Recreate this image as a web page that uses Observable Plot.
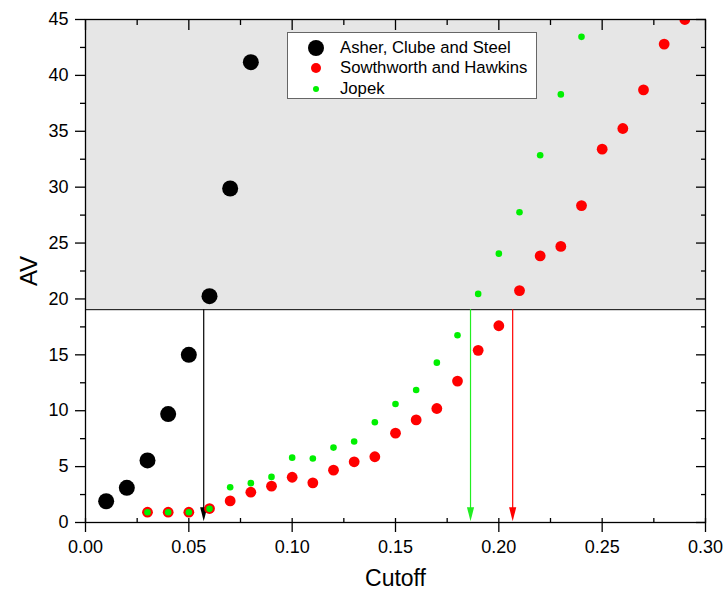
<!DOCTYPE html>
<html>
<head>
<meta charset="utf-8">
<script src="https://cdn.jsdelivr.net/npm/d3@7"></script>
<script src="https://cdn.jsdelivr.net/npm/@observablehq/plot@0.6"></script>
<style>
  html, body { margin: 0; padding: 0; background: #fff; }
  #wrap { position: relative; width: 724px; height: 597px; font-family: "Liberation Sans", Arial, sans-serif; }
  #legend { position: absolute; left: 287px; top: 32px; width: 250px; height: 67px; background: #fff; border: 1px solid #666; box-sizing: border-box; }
  .item { position: absolute; left: 0; height: 20px; display: flex; align-items: center; font-size: 16.7px; color: #000; }
  .mk { position: absolute; border-radius: 50%; }
  .lab { position: absolute; left: 52px; white-space: nowrap; }
</style>
</head>
<body>
<div id="wrap"></div>
<script>
// ---- data ----
const asherX = [0.01, 0.02, 0.03, 0.04, 0.05, 0.06, 0.07, 0.08];
const asherY = [1.9, 3.1, 5.55, 9.7, 15.0, 20.25, 29.88, 41.18];

const sowthX = [0.03, 0.04, 0.05, 0.06, 0.07, 0.08, 0.09, 0.10, 0.11, 0.12, 0.13, 0.14, 0.15, 0.16, 0.17, 0.18, 0.19, 0.20, 0.21, 0.22, 0.23, 0.24, 0.25, 0.26, 0.27, 0.28, 0.29];
const sowthY = [0.92, 0.92, 0.92, 1.25, 1.93, 2.71, 3.25, 4.05, 3.55, 4.68, 5.43, 5.88, 7.99, 9.18, 10.2, 12.65, 15.4, 17.6, 20.75, 23.85, 24.7, 28.35, 33.4, 35.25, 38.7, 42.8, 45.0];

const jopekX = [0.03, 0.04, 0.05, 0.06, 0.07, 0.08, 0.09, 0.10, 0.11, 0.12, 0.13, 0.14, 0.15, 0.16, 0.17, 0.18, 0.19, 0.20, 0.21, 0.22, 0.23, 0.24];
const jopekY = [0.92, 0.92, 0.92, 1.22, 3.16, 3.52, 4.08, 5.8, 5.73, 6.7, 7.25, 8.97, 10.6, 11.85, 14.3, 16.75, 20.45, 24.05, 27.75, 32.85, 38.3, 43.45];

const seriesNames = ["Asher, Clube and Steel", "Sowthworth and Hawkins", "Jopek"];
const seriesColors = ["#000000", "#ff0000", "#00f000"];

// threshold band and cutoff arrows
const bandLow = 19.04;
const bandHigh = 45;
const arrowX = [0.0572, 0.1863, 0.2067];
const arrowColors = ["#000000", "#22ee22", "#ff0000"];
const arrowTipY = 0.12;

// ticks
const xMajor = [0, 0.05, 0.10, 0.15, 0.20, 0.25, 0.30];
const xMinor = [0.025, 0.075, 0.125, 0.175, 0.225, 0.275];
const xTickLabels = ["0.00", "0.05", "0.10", "0.15", "0.20", "0.25", "0.30"];
const yMajor = [0, 5, 10, 15, 20, 25, 30, 35, 40, 45];
const yMinor = [2.5, 7.5, 12.5, 17.5, 22.5, 27.5, 32.5, 37.5, 42.5];

const xDomain = [0, 0.3];
const yDomain = [0, 45];

// ---- build tables ----
const toRows = (xs, ys) => xs.map((x, i) => ({x, y: ys[i]}));
const asher = toRows(asherX, asherY);
const sowth = toRows(sowthX, sowthY);
const jopek = toRows(jopekX, jopekY);
const arrows = arrowX.map((x, i) => ({x, c: arrowColors[i]}));

const tri = {
  draw(ctx) {
    ctx.moveTo(0, 0);
    ctx.lineTo(-3.6, -14);
    ctx.lineTo(3.6, -14);
    ctx.closePath();
  }
};

const font = "Liberation Sans, Arial, sans-serif";
const tickOnly = {fill: "none", label: null, strokeWidth: 1.3};

const chart = Plot.plot({
  width: 724,
  height: 597,
  marginLeft: 85,
  marginRight: 19,
  marginTop: 19,
  marginBottom: 75,
  style: {fontFamily: font, color: "#000", background: "#fff", overflow: "visible"},
  x: {domain: xDomain},
  y: {domain: yDomain},
  marks: [
    Plot.rect([{}], {x1: xDomain[0], x2: xDomain[1], y1: bandLow, y2: bandHigh, fill: "#e6e6e6"}),
    Plot.ruleY([bandLow], {stroke: "#000", strokeWidth: 1}),
    Plot.ruleX(arrows, {x: "x", y1: bandLow, y2: arrowTipY + 0.9, stroke: "c", strokeWidth: 1.2}),
    Plot.dot(arrows, {x: "x", y: arrowTipY, symbol: tri, r: 5, fill: "c", stroke: "none"}),
    Plot.dot(asher, {x: "x", y: "y", r: 8, fill: seriesColors[0], clip: "frame"}),
    Plot.dot(sowth, {x: "x", y: "y", r: 5.4, fill: seriesColors[1], clip: "frame"}),
    Plot.dot(jopek, {x: "x", y: "y", r: 3.3, fill: seriesColors[2], clip: "frame"}),
    Plot.frame({stroke: "#000", strokeWidth: 1.3}),
    // bottom axis
    Plot.axisX({anchor: "bottom", ticks: xMajor, tickSize: 10, tickPadding: 8, tickFormat: (d, i) => xTickLabels[i], fontSize: 18, label: null, strokeWidth: 1.3}),
    Plot.axisX({anchor: "bottom", ticks: xMajor.concat(xMinor), tickSize: -4, ...tickOnly}),
    // top axis
    Plot.axisX({anchor: "top", ticks: xMajor, tickSize: -10, ...tickOnly}),
    Plot.axisX({anchor: "top", ticks: xMinor, tickSize: -5, ...tickOnly}),
    // left axis
    Plot.axisY({anchor: "left", ticks: yMajor, tickSize: 10, tickPadding: 7, fontSize: 18, label: null, strokeWidth: 1.3}),
    Plot.axisY({anchor: "left", ticks: yMinor, tickSize: 5, ...tickOnly}),
    // right axis
    Plot.axisY({anchor: "right", ticks: yMajor, tickSize: -10, ...tickOnly}),
    Plot.axisY({anchor: "right", ticks: yMinor, tickSize: -5, ...tickOnly}),
    // axis titles
    Plot.text(["Cutoff"], {frameAnchor: "bottom", text: d => d, textAnchor: "middle", dy: 63, fontSize: 23, fill: "#000"}),
    Plot.text(["AV"], {frameAnchor: "left", text: d => d, textAnchor: "middle", dx: -56, rotate: -90, fontSize: 24, fill: "#000"})
  ]
});

const wrap = document.getElementById("wrap");
wrap.appendChild(chart);

// legend
const legend = document.createElement("div");
legend.id = "legend";
const rows = [
  {top: 5, r: 8},
  {top: 25, r: 5.4},
  {top: 46, r: 3.3}
];
seriesNames.forEach((name, i) => {
  const it = document.createElement("div");
  it.className = "item";
  it.style.top = rows[i].top + "px";
  it.style.width = "248px";
  const mk = document.createElement("span");
  mk.className = "mk";
  const r = rows[i].r;
  mk.style.width = (2 * r) + "px";
  mk.style.height = (2 * r) + "px";
  mk.style.left = (28 - r) + "px";
  mk.style.top = (10 - r) + "px";
  mk.style.background = seriesColors[i];
  const lab = document.createElement("span");
  lab.className = "lab";
  lab.textContent = name;
  it.appendChild(mk);
  it.appendChild(lab);
  legend.appendChild(it);
});
wrap.appendChild(legend);
</script>
</body>
</html>
